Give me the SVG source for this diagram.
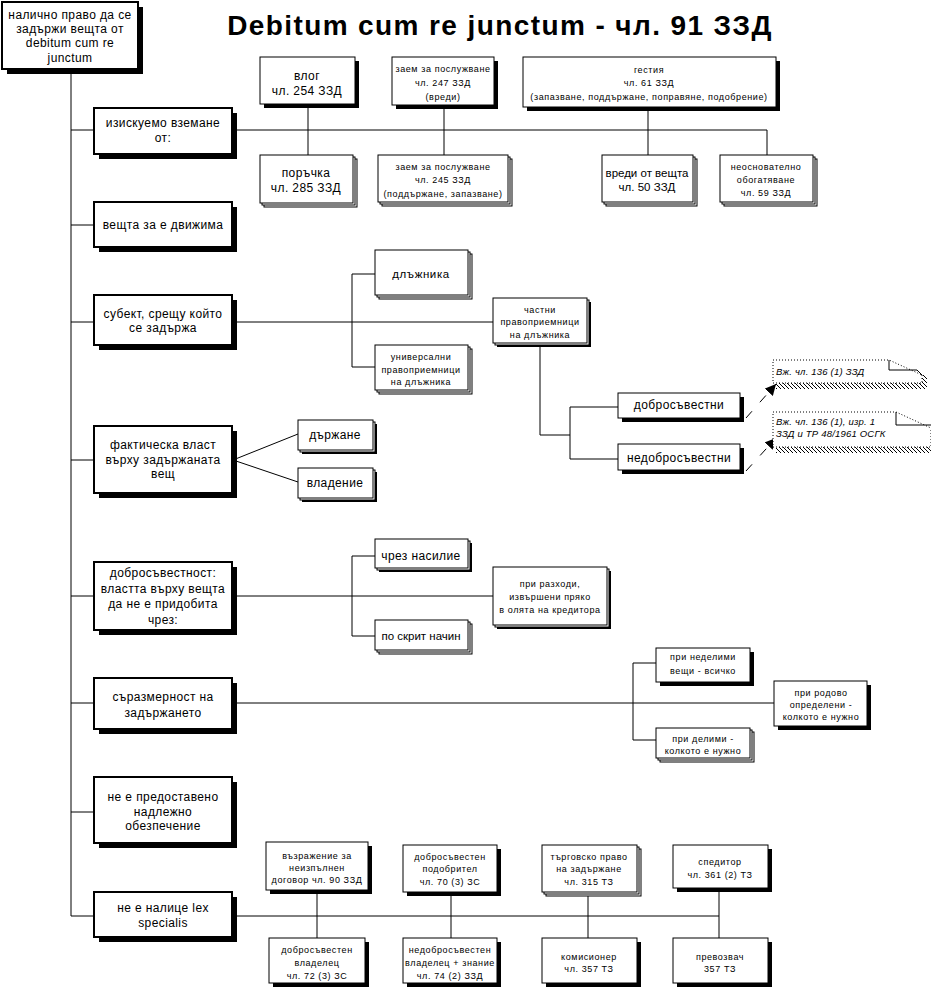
<svg xmlns="http://www.w3.org/2000/svg" width="931" height="991" viewBox="0 0 931 991">
<defs>
<style>
.bg{fill:#fff}
.box{fill:#fff;stroke:#000;stroke-width:1}
.box2{fill:#fff;stroke:#000;stroke-width:2}
.shd{fill:#000}
.stk{fill:#fff;stroke:#000;stroke-width:1}
.ln{fill:none;stroke:#000;stroke-width:1}
.dsh{fill:none;stroke:#000;stroke-width:1;stroke-dasharray:9 12}
.dot{fill:#fff;stroke:#000;stroke-width:1;stroke-dasharray:1 2}
text{font-family:"Liberation Sans",Arial,sans-serif;text-anchor:middle;fill:#000}
.t12{font-size:12px;letter-spacing:0.4px}
.t11{font-size:11.5px;letter-spacing:0.6px}
.tn{font-size:11.5px;letter-spacing:0px}
.t9{font-size:9px;letter-spacing:0.6px}
.ti{font-size:9.5px;font-style:italic;text-anchor:start;letter-spacing:0.2px}
.title{font-size:28px;font-weight:bold;letter-spacing:1.4px}
</style>
<pattern id="hatch" width="4" height="4" patternUnits="userSpaceOnUse">
<path d="M-1,-1 L5,5 M3,-1 L5,1 M-1,3 L1,5" stroke="#000" stroke-width="1"/>
</pattern>
<marker id="arr" viewBox="0 0 10 10" refX="10" refY="5" markerWidth="11" markerHeight="11" markerUnits="userSpaceOnUse" orient="auto">
<path d="M0,0 L10,5 L0,10 Z" fill="#000"/>
</marker>
</defs>
<rect class="bg" x="0" y="0" width="931" height="991"/>
<text class="title" x="500" y="35">Debitum cum re junctum - чл. 91 ЗЗД</text>

<g id="connectors">
<path class="ln" d="M71,72 V916"/>
<path class="ln" d="M71,130 H94 M71,225 H94 M71,322 H94 M71,460 H94 M71,596 H94 M71,703 H94 M71,812 H94 M71,916 H94"/>
<path class="ln" d="M232,130 H767 V155 M308,104 V155 M444,105 V155 M648,107 V155"/>
<path class="ln" d="M232,322 H493 M352,274 V367 M352,274 H375 M352,367 H375"/>
<path class="ln" d="M540,343 V435 H570 M570,407 V459 M570,407 H618 M570,459 H618"/>
<path class="ln" d="M233,460 L298,434 M233,460 L298,482"/>
<path class="ln" d="M232,596 H493 M352,556 V636 M352,556 H375 M352,636 H375"/>
<path class="ln" d="M232,703 H774 M633,663 V740 M633,663 H656 M633,740 H656"/>
<path class="ln" d="M232,916 H719 M317,890 V938 M451,892 V938 M588,892 V938 M719,888 V938"/>
<path class="dsh" d="M746,418 L776,384" marker-end="url(#arr)"/>
<path class="dsh" d="M746,471 L776,438" marker-end="url(#arr)"/>
</g>

<g id="root">
<rect class="shd" x="7" y="7" width="136" height="67"/>
<rect class="box2" x="2" y="2" width="136" height="67"/>
<text class="t12" x="70" y="19">налично право да се</text>
<text class="t12" x="70" y="33">задържи вещта от</text>
<text class="t12" x="70" y="47">debitum cum re</text>
<text class="t12" x="70" y="62">junctum</text>
</g>

<g id="n-iziskuemo">
<rect class="shd" x="99" y="113" width="138" height="46"/>
<rect class="box2" x="94" y="108" width="138" height="46"/>
<text class="t12" x="163" y="127">изискуемо вземане</text>
<text class="t12" x="163" y="142">от:</text>
</g>
<g id="n-veshta">
<rect class="shd" x="99" y="207" width="138" height="45"/>
<rect class="box2" x="94" y="202" width="138" height="45"/>
<text class="t12" x="163" y="229">вещта за е движима</text>
</g>
<g id="n-subekt">
<rect class="shd" x="99" y="300" width="138" height="50"/>
<rect class="box2" x="94" y="295" width="138" height="50"/>
<text class="t12" x="163" y="318">субект, срещу който</text>
<text class="t12" x="163" y="332">се задържа</text>
</g>
<g id="n-faktich">
<rect class="shd" x="99" y="431" width="138" height="67"/>
<rect class="box2" x="94" y="426" width="138" height="67"/>
<text class="t12" x="163" y="449">фактическа власт</text>
<text class="t12" x="163" y="464">върху задържаната</text>
<text class="t12" x="163" y="478">вещ</text>
</g>
<g id="n-dobros">
<rect class="shd" x="99" y="567" width="138" height="68"/>
<rect class="box2" x="94" y="562" width="138" height="68"/>
<text class="t12" x="163" y="577">добросъвестност:</text>
<text class="t12" x="163" y="593">властта върху вещта</text>
<text class="t12" x="163" y="608">да не е придобита</text>
<text class="t12" x="163" y="624">чрез:</text>
</g>
<g id="n-sarazm">
<rect class="shd" x="99" y="683" width="138" height="51"/>
<rect class="box2" x="94" y="678" width="138" height="51"/>
<text class="t12" x="163" y="701">съразмерност на</text>
<text class="t12" x="163" y="717">задържането</text>
</g>
<g id="n-obezp">
<rect class="shd" x="99" y="782" width="138" height="66"/>
<rect class="box2" x="94" y="777" width="138" height="66"/>
<text class="t12" x="163" y="801">не е предоставено</text>
<text class="t12" x="163" y="816">надлежно</text>
<text class="t12" x="163" y="830">обезпечение</text>
</g>
<g id="n-lex">
<rect class="shd" x="99" y="897" width="138" height="45"/>
<rect class="box2" x="94" y="892" width="138" height="45"/>
<text class="t12" x="163" y="912">не е налице lex</text>
<text class="t12" x="163" y="927">specialis</text>
</g>

<g id="n-vlog">
<rect class="shd" x="264" y="61" width="95" height="47"/>
<rect class="box" x="260" y="57" width="95" height="47"/>
<text class="t12" x="307" y="80">влог</text>
<text class="t12" x="307" y="95">чл. 254 ЗЗД</text>
</g>
<g id="n-zaem247">
<rect class="shd" x="396" y="61" width="102" height="48"/>
<rect class="box" x="392" y="57" width="102" height="48"/>
<text class="t9" x="443" y="72">заем за послужване</text>
<text class="t9" x="443" y="86">чл. 247 ЗЗД</text>
<text class="t9" x="443" y="100">(вреди)</text>
</g>
<g id="n-gestia">
<rect class="shd" x="527" y="61" width="253" height="50"/>
<rect class="box" x="523" y="57" width="253" height="50"/>
<text class="t9" x="649" y="73">гестия</text>
<text class="t9" x="649" y="86">чл. 61 ЗЗД</text>
<text class="t9" x="649" y="100">(запазване, поддържане, поправяне, подобрение)</text>
</g>
<g id="n-poruchka">
<rect class="stk" x="264" y="159" width="93" height="48"/>
<rect class="stk" x="262" y="157" width="93" height="48"/>
<rect class="box" x="260" y="155" width="93" height="48"/>
<text class="t12" x="306" y="177">поръчка</text>
<text class="t12" x="306" y="192">чл. 285 ЗЗД</text>
</g>
<g id="n-zaem245">
<rect class="stk" x="382" y="159" width="130" height="47"/>
<rect class="stk" x="380" y="157" width="130" height="47"/>
<rect class="box" x="378" y="155" width="130" height="47"/>
<text class="t9" x="443" y="170">заем за послужване</text>
<text class="t9" x="443" y="183">чл. 245 ЗЗД</text>
<text class="t9" x="443" y="197">(поддържане, запазване)</text>
</g>
<g id="n-vredi">
<rect class="stk" x="606" y="159" width="91" height="47"/>
<rect class="stk" x="604" y="157" width="91" height="47"/>
<rect class="box" x="602" y="155" width="91" height="47"/>
<text class="tn" x="647" y="177">вреди от вещта</text>
<text class="tn" x="647" y="191">чл. 50 ЗЗД</text>
</g>
<g id="n-neosn">
<rect class="stk" x="724" y="159" width="93" height="47"/>
<rect class="stk" x="722" y="157" width="93" height="47"/>
<rect class="box" x="720" y="155" width="93" height="47"/>
<text class="t9" x="766" y="170">неоснователно</text>
<text class="t9" x="766" y="183">обогатяване</text>
<text class="t9" x="766" y="196">чл. 59 ЗЗД</text>
</g>

<g id="n-dlazhnika">
<rect class="stk" x="379" y="254" width="93" height="45"/>
<rect class="stk" x="377" y="252" width="93" height="45"/>
<rect class="box" x="375" y="250" width="93" height="45"/>
<text class="t11" x="421" y="278">длъжника</text>
</g>
<g id="n-univ">
<rect class="stk" x="379" y="349" width="93" height="45"/>
<rect class="stk" x="377" y="347" width="93" height="45"/>
<rect class="box" x="375" y="345" width="93" height="45"/>
<text class="t9" x="421" y="360">универсални</text>
<text class="t9" x="421" y="373">правоприемници</text>
<text class="t9" x="421" y="385">на длъжника</text>
</g>
<g id="n-chastni">
<rect class="shd" x="497" y="302" width="94" height="45"/>
<rect class="stk" x="495" y="300" width="94" height="45"/>
<rect class="box" x="493" y="298" width="94" height="45"/>
<text class="t9" x="540" y="313">частни</text>
<text class="t9" x="540" y="325">правоприемници</text>
<text class="t9" x="540" y="338">на длъжника</text>
</g>
<g id="n-dobrosavestni">
<rect class="shd" x="622" y="397" width="122" height="25"/>
<rect class="box" x="618" y="393" width="122" height="25"/>
<text class="t12" x="679" y="409">добросъвестни</text>
</g>
<g id="n-nedobrosavestni">
<rect class="shd" x="622" y="448" width="122" height="26"/>
<rect class="box" x="618" y="444" width="122" height="26"/>
<text class="t12" x="679" y="462">недобросъвестни</text>
</g>

<g id="note1">
<rect x="776" y="383" width="149" height="6" fill="url(#hatch)"/>
<rect x="922" y="375" width="5" height="14" fill="url(#hatch)"/>
<path class="dot" d="M922,375 V383 H773 V360 H889 L922,375"/>
<path class="ln" d="M889,360 V370 H917 L922,375"/>
<text class="ti" x="776" y="375">Вж. чл. 136 (1) ЗЗД</text>
</g>
<g id="note2">
<rect x="776" y="447" width="155" height="6" fill="url(#hatch)"/>
<rect x="926" y="430" width="5" height="23" fill="url(#hatch)"/>
<path class="dot" d="M931,430 V447 H773 V412 H896 L931,428"/>
<path class="ln" d="M896,412 V425 H931"/>
<text class="ti" x="776" y="425">Вж. чл. 136 (1), изр. 1</text>
<text class="ti" x="776" y="437">ЗЗД и ТР 48/1961 ОСГК</text>
</g>

<g id="n-darzhane">
<rect class="shd" x="302" y="424" width="75" height="30"/>
<rect class="stk" x="300" y="422" width="75" height="30"/>
<rect class="box" x="298" y="420" width="75" height="30"/>
<text class="t12" x="335" y="439">държане</text>
</g>
<g id="n-vladenie">
<rect class="shd" x="302" y="472" width="75" height="30"/>
<rect class="stk" x="300" y="470" width="75" height="30"/>
<rect class="box" x="298" y="468" width="75" height="30"/>
<text class="t12" x="335" y="487">владение</text>
</g>

<g id="n-nasilie">
<rect class="shd" x="379" y="543" width="93" height="29"/>
<rect class="stk" x="377" y="541" width="93" height="29"/>
<rect class="box" x="375" y="539" width="93" height="29"/>
<text class="t12" x="421" y="560">чрез насилие</text>
</g>
<g id="n-skrit">
<rect class="stk" x="379" y="624" width="93" height="30"/>
<rect class="stk" x="377" y="622" width="93" height="30"/>
<rect class="box" x="375" y="620" width="93" height="30"/>
<text class="tn" x="421" y="640">по скрит начин</text>
</g>
<g id="n-razhodi">
<rect class="shd" x="497" y="571" width="114" height="58"/>
<rect class="stk" x="495" y="569" width="114" height="58"/>
<rect class="box" x="493" y="567" width="114" height="58"/>
<text class="t9" x="550" y="587">при разходи,</text>
<text class="t9" x="550" y="600">извършени пряко</text>
<text class="t9" x="550" y="613">в олята на кредитора</text>
</g>

<g id="n-nedelimi">
<rect class="shd" x="660" y="652" width="94" height="34"/>
<rect class="box" x="656" y="648" width="94" height="34"/>
<text class="t9" x="703" y="660">при неделими</text>
<text class="t9" x="703" y="674">вещи - всичко</text>
</g>
<g id="n-delimi">
<rect class="stk" x="660" y="732" width="94" height="30"/>
<rect class="stk" x="658" y="730" width="94" height="30"/>
<rect class="box" x="656" y="728" width="94" height="30"/>
<text class="t9" x="703" y="742">при делими -</text>
<text class="t9" x="703" y="754">колкото е нужно</text>
</g>
<g id="n-rodovo">
<rect class="shd" x="778" y="685" width="93" height="45"/>
<rect class="box" x="774" y="681" width="93" height="45"/>
<text class="t9" x="821" y="696">при родово</text>
<text class="t9" x="821" y="708">определени -</text>
<text class="t9" x="821" y="720">колкото е нужно</text>
</g>

<g id="n-vazrazhenie">
<rect class="shd" x="270" y="846" width="102" height="48"/>
<rect class="box" x="266" y="842" width="102" height="48"/>
<text class="t9" x="317" y="859">възражение за</text>
<text class="t9" x="317" y="871">неизпълнен</text>
<text class="t9" x="317" y="883">договор чл. 90 ЗЗД</text>
</g>
<g id="n-podobritel">
<rect class="shd" x="407" y="849" width="94" height="47"/>
<rect class="box" x="403" y="845" width="94" height="47"/>
<text class="t9" x="450" y="860">добросъвестен</text>
<text class="t9" x="450" y="872">подобрител</text>
<text class="t9" x="450" y="885">чл. 70 (3) ЗС</text>
</g>
<g id="n-targovsko">
<rect class="stk" x="546" y="849" width="95" height="47"/>
<rect class="stk" x="544" y="847" width="95" height="47"/>
<rect class="box" x="542" y="845" width="95" height="47"/>
<text class="t9" x="589" y="860">търговско право</text>
<text class="t9" x="589" y="872">на задържане</text>
<text class="t9" x="589" y="885">чл. 315 ТЗ</text>
</g>
<g id="n-speditor">
<rect class="shd" x="677" y="849" width="95" height="43"/>
<rect class="box" x="673" y="845" width="95" height="43"/>
<text class="t9" x="720" y="865">спедитор</text>
<text class="t9" x="720" y="878">чл. 361 (2) ТЗ</text>
</g>
<g id="n-vladelec">
<rect class="shd" x="273" y="942" width="96" height="45"/>
<rect class="box" x="269" y="938" width="96" height="45"/>
<text class="t9" x="317" y="953">добросъвестен</text>
<text class="t9" x="317" y="966">владелец</text>
<text class="t9" x="317" y="979">чл. 72 (3) ЗС</text>
</g>
<g id="n-nedobr-vladelec">
<rect class="shd" x="407" y="942" width="94" height="45"/>
<rect class="box" x="403" y="938" width="94" height="45"/>
<text class="t9" x="450" y="953">недобросъвестен</text>
<text class="t9" x="450" y="966">владелец + знание</text>
<text class="t9" x="450" y="979">чл. 74 (2) ЗЗД</text>
</g>
<g id="n-komisioner">
<rect class="shd" x="546" y="942" width="95" height="45"/>
<rect class="box" x="542" y="938" width="95" height="45"/>
<text class="t9" x="589" y="960">комисионер</text>
<text class="t9" x="589" y="972">чл. 357 ТЗ</text>
</g>
<g id="n-prevozvach">
<rect class="shd" x="677" y="942" width="95" height="45"/>
<rect class="box" x="673" y="938" width="95" height="45"/>
<text class="t9" x="720" y="960">превозвач</text>
<text class="t9" x="720" y="972">357 ТЗ</text>
</g>
</svg>
